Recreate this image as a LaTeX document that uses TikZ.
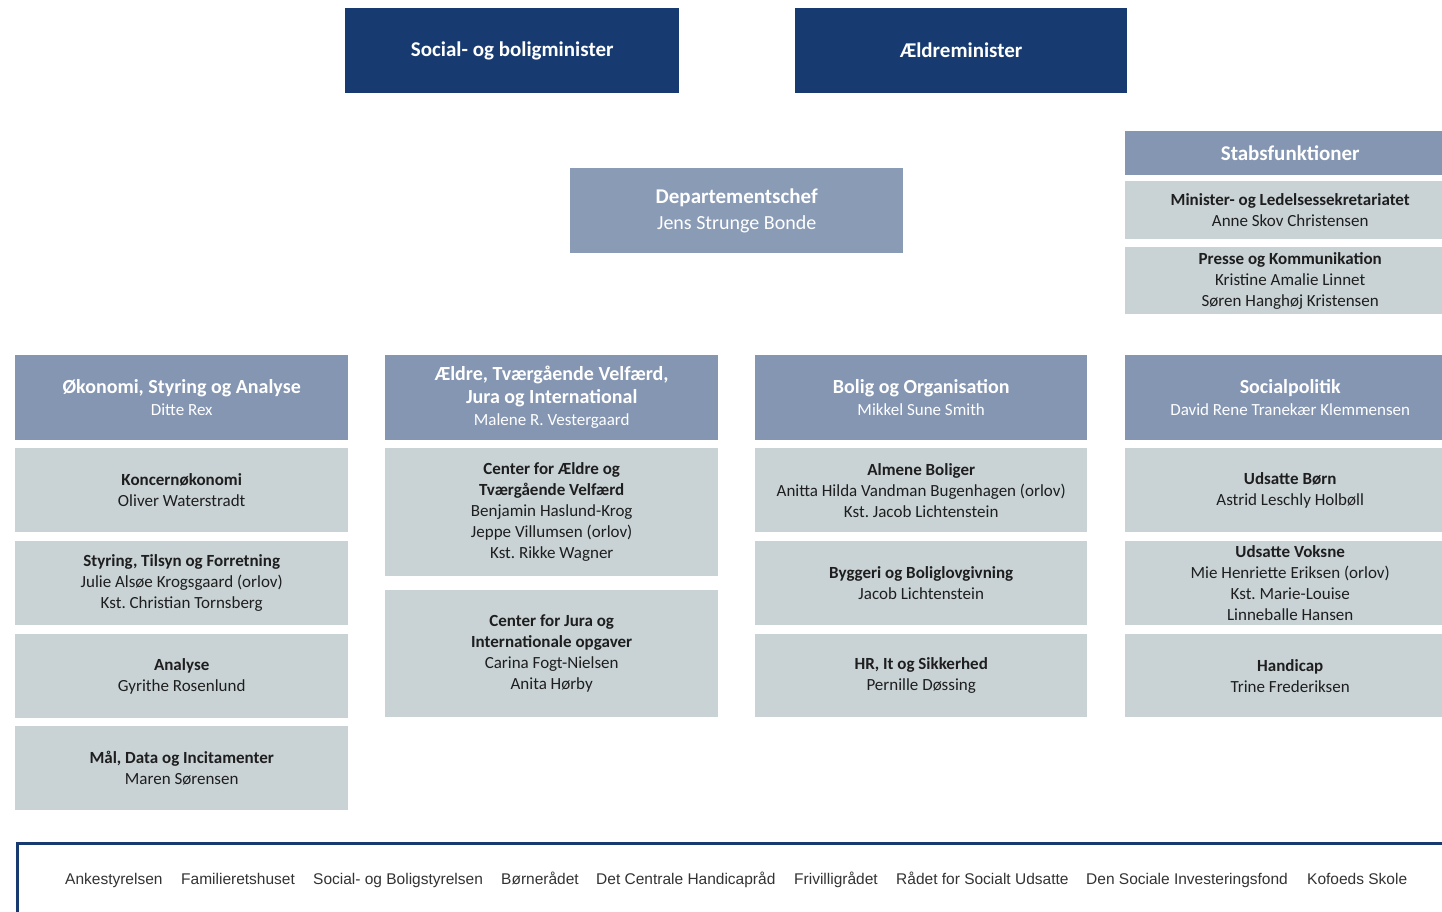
\documentclass[tikz,border=0pt]{standalone}
\usepackage{fontspec}
\setmainfont{Carlito}
\newfontfamily\arialf{Liberation Sans}
\frenchspacing
\definecolor{navy}{HTML}{173B70}
\definecolor{hdr}{HTML}{8596B3}
\definecolor{dep}{HTML}{8A9BB6}
\definecolor{lite}{HTML}{C9D3D6}
\definecolor{txt}{HTML}{1E1E1E}
\newcommand{\hd}[1]{{\bfseries\fontsize{20}{22}\selectfont #1}}
\newcommand{\bt}[1]{{\bfseries #1}}
\tikzset{
 box/.style={anchor=north west, inner sep=0pt, align=center},
 minbox/.style={box, fill=navy, text=white, font=\bfseries\fontsize{21}{25}\selectfont},
 depbox/.style={box, fill=dep, text=white, font=\fontsize{20}{26}\selectfont},
 hdrbox/.style={box, fill=hdr, text=white, font=\fontsize{17}{22}\selectfont},
 litebox/.style={box, fill=lite, text=txt, font=\fontsize{17}{21}\selectfont},
 agency/.style={anchor=base west, inner sep=0pt, text=black!80, font=\arialf\fontsize{15.5}{18}\selectfont},
}
\begin{document}
\begin{tikzpicture}[x=1pt,y=-1pt]
\useasboundingbox[fill=white] (0,0) rectangle (1442,911);
% ministers
\node[minbox, minimum width=334pt, minimum height=85pt] (socmin) at (345,8) {Social- og boligminister};
\node[minbox, minimum width=332pt, minimum height=85pt] (aldmin) at (795,8) {Ældreminister};
% departementschef
\node[depbox, minimum width=333pt, minimum height=85pt] (dchef) at (570,168) {{\bfseries\fontsize{21}{26}\selectfont Departementschef}\\Jens Strunge Bonde};
% stabsfunktioner
\node[hdrbox, minimum width=330pt, minimum height=44pt, font=\bfseries\fontsize{21}{25}\selectfont] (stab) at (1125,131) {Stabsfunktioner};
\node[litebox, minimum width=330pt, minimum height=58pt] (minsek) at (1125,181) {\bt{Minister- og Ledelsessekretariatet}\\Anne Skov Christensen};
\node[litebox, minimum width=330pt, minimum height=67pt] (presse) at (1125,247) {\bt{Presse og Kommunikation}\\Kristine Amalie Linnet\\Søren Hanghøj Kristensen};
% column 1
\node[hdrbox, minimum width=333pt, minimum height=85pt] (h1) at (15,355) {\hd{Økonomi, Styring og Analyse}\\Ditte Rex};
\node[litebox, minimum width=333pt, minimum height=84pt] (c1a) at (15,448) {\bt{Koncernøkonomi}\\Oliver Waterstradt};
\node[litebox, minimum width=333pt, minimum height=84pt] (c1b) at (15,541) {\bt{Styring, Tilsyn og Forretning}\\Julie Alsøe Krogsgaard (orlov)\\Kst. Christian Tornsberg};
\node[litebox, minimum width=333pt, minimum height=84pt] (c1c) at (15,634) {\bt{Analyse}\\Gyrithe Rosenlund};
\node[litebox, minimum width=333pt, minimum height=84pt] (c1d) at (15,726) {\bt{Mål, Data og Incitamenter}\\Maren Sørensen};
% column 2
\node[hdrbox, minimum width=333pt, minimum height=85pt] (h2) at (385,355) {\hd{Ældre, Tværgående Velfærd,}\\[1pt]\hd{Jura og International}\\Malene R. Vestergaard};
\node[litebox, minimum width=333pt, minimum height=128pt] (c2a) at (385,448) {\bt{Center for Ældre og}\\\bt{Tværgående Velfærd}\\Benjamin Haslund-Krog\\Jeppe Villumsen (orlov)\\Kst. Rikke Wagner};
\node[litebox, minimum width=333pt, minimum height=127pt] (c2b) at (385,590) {\bt{Center for Jura og}\\\bt{Internationale opgaver}\\Carina Fogt-Nielsen\\Anita Hørby};
% column 3
\node[hdrbox, minimum width=332pt, minimum height=85pt] (h3) at (755,355) {\hd{Bolig og Organisation}\\Mikkel Sune Smith};
\node[litebox, minimum width=332pt, minimum height=84pt] (c3a) at (755,448) {\bt{Almene Boliger}\\Anitta Hilda Vandman Bugenhagen (orlov)\\Kst. Jacob Lichtenstein};
\node[litebox, minimum width=332pt, minimum height=84pt] (c3b) at (755,541) {\bt{Byggeri og Boliglovgivning}\\Jacob Lichtenstein};
\node[litebox, minimum width=332pt, minimum height=83pt] (c3c) at (755,634) {\bt{HR, It og Sikkerhed}\\Pernille Døssing};
% column 4
\node[hdrbox, minimum width=330pt, minimum height=85pt] (h4) at (1125,355) {\hd{Socialpolitik}\\David Rene Tranekær Klemmensen};
\node[litebox, minimum width=330pt, minimum height=84pt] (c4a) at (1125,448) {\bt{Udsatte Børn}\\Astrid Leschly Holbøll};
\node[litebox, minimum width=330pt, minimum height=84pt] (c4b) at (1125,541) {\bt{Udsatte Voksne}\\Mie Henriette Eriksen (orlov)\\Kst. Marie-Louise\\Linneballe Hansen};
\node[litebox, minimum width=330pt, minimum height=83pt] (c4c) at (1125,634) {\bt{Handicap}\\Trine Frederiksen};
% agencies
\node[box, draw=navy, line width=2.5pt, minimum width=1460pt, minimum height=100pt] (agencies) at (16,842) {};
\node[agency] (a1) at (65,884.5) {Ankestyrelsen};
\node[agency] (a2) at (181,884.5) {Familieretshuset};
\node[agency] (a3) at (313,884.5) {Social- og Boligstyrelsen};
\node[agency] (a4) at (501,884.5) {Børnerådet};
\node[agency] (a5) at (596,884.5) {Det Centrale Handicapråd};
\node[agency] (a6) at (794,884.5) {Frivilligrådet};
\node[agency] (a7) at (896,884.5) {Rådet for Socialt Udsatte};
\node[agency] (a8) at (1086,884.5) {Den Sociale Investeringsfond};
\node[agency] (a9) at (1307,884.5) {Kofoeds Skole};
\end{tikzpicture}
\end{document}
